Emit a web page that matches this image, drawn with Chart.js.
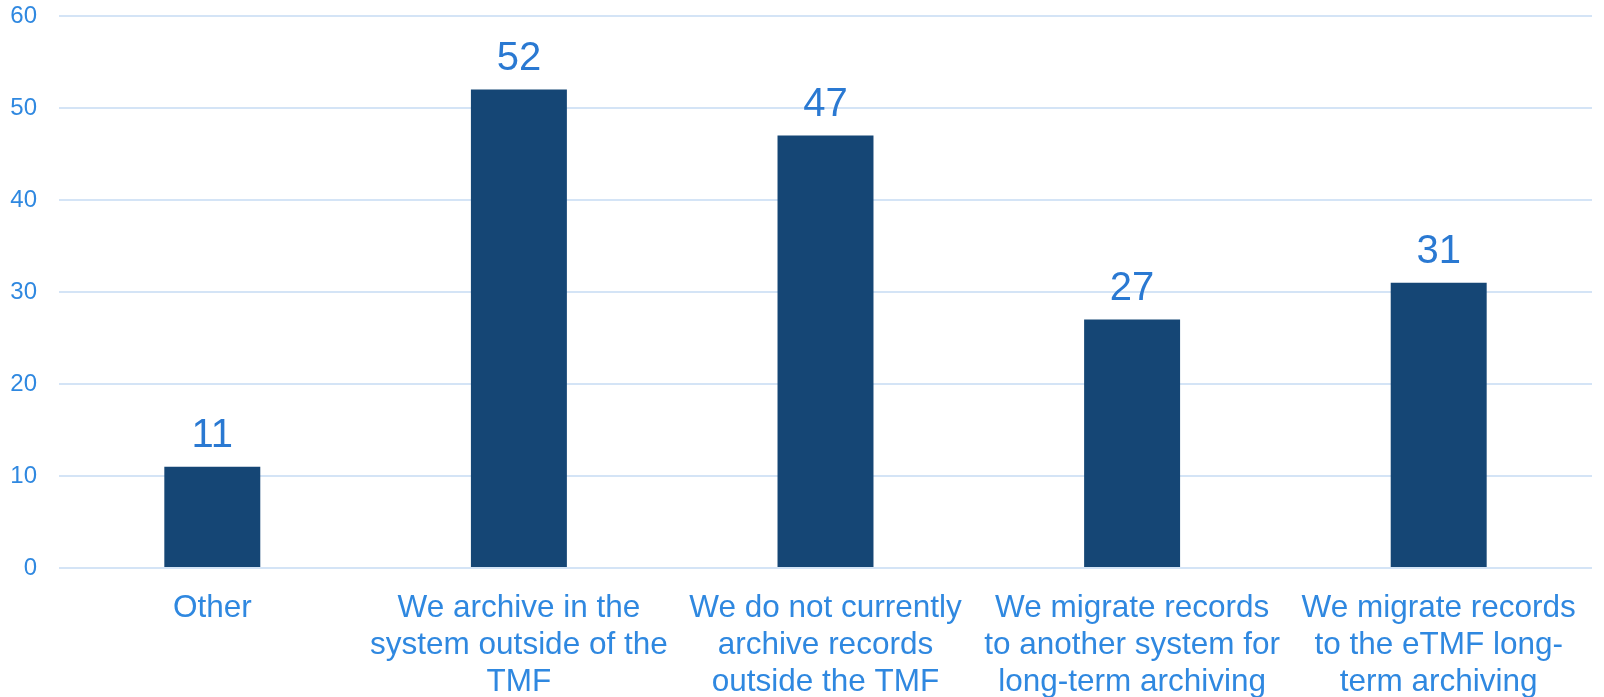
<!DOCTYPE html>
<html>
<head>
<meta charset="utf-8">
<script src="https://cdn.jsdelivr.net/npm/chart.js@4/dist/chart.umd.min.js"></script>
<style>
html,body{margin:0;padding:0;background:#fff;}
#wrap{width:1604px;height:697px;position:relative;}
</style>
</head>
<body>
<div id="wrap"><canvas id="c" width="1604" height="697"></canvas></div>
<script>
const categories = [
  ["Other"],
  ["We archive in the", "system outside of the", "TMF"],
  ["We do not currently", "archive records", "outside the TMF"],
  ["We migrate records", "to another system for", "long-term archiving"],
  ["We migrate records", "to the eTMF long-", "term archiving"]
];
const values = [11, 52, 47, 27, 31];
const yTicks = [0, 10, 20, 30, 40, 50, 60];

const valueLabels = {
  id: 'valueLabels',
  afterDatasetsDraw(chart) {
    const ctx = chart.ctx;
    const meta = chart.getDatasetMeta(0);
    ctx.save();
    ctx.font = '40px "Liberation Sans", Arial, sans-serif';
    ctx.fillStyle = '#2a79d2';
    ctx.textAlign = 'center';
    ctx.textBaseline = 'alphabetic';
    meta.data.forEach((bar, i) => {
      ctx.fillText(String(chart.data.datasets[0].data[i]), bar.x, bar.y - 20);
    });
    ctx.restore();
  }
};

new Chart(document.getElementById('c'), {
  type: 'bar',
  data: {
    labels: categories,
    datasets: [{
      data: values,
      backgroundColor: '#154675',
      barPercentage: 0.313,
      categoryPercentage: 1.0
    }]
  },
  options: {
    responsive: false,
    animation: false,
    devicePixelRatio: 1,
    layout: { padding: { top: 16, right: 12, left: 0, bottom: 0 } },
    plugins: { legend: { display: false }, tooltip: { enabled: false } },
    scales: {
      x: {
        grid: { display: false, drawTicks: false },
        border: { display: false },
        ticks: {
          color: '#2f88e0',
          font: { family: '"Liberation Sans", Arial, sans-serif', size: 31.5, lineHeight: 1.17 },
          padding: 22,
          maxRotation: 0,
          autoSkip: false
        },
        afterFit(scale) { scale.height = 129; scale.paddingLeft = 0; scale.paddingRight = 0; }
      },
      y: {
        min: 0, max: 60,
        afterBuildTicks(scale) { scale.ticks = yTicks.map(v => ({ value: v })); },
        grid: { color: '#d4e4f6', lineWidth: 2, drawTicks: false },
        border: { display: false },
        ticks: {
          color: '#2f88e0',
          font: { family: '"Liberation Sans", Arial, sans-serif', size: 24 },
          padding: 22
        },
        afterFit(scale) { scale.width = 59; scale.paddingTop = 0; scale.paddingBottom = 0; }
      }
    }
  },
  plugins: [valueLabels]
});
</script>
</body>
</html>
